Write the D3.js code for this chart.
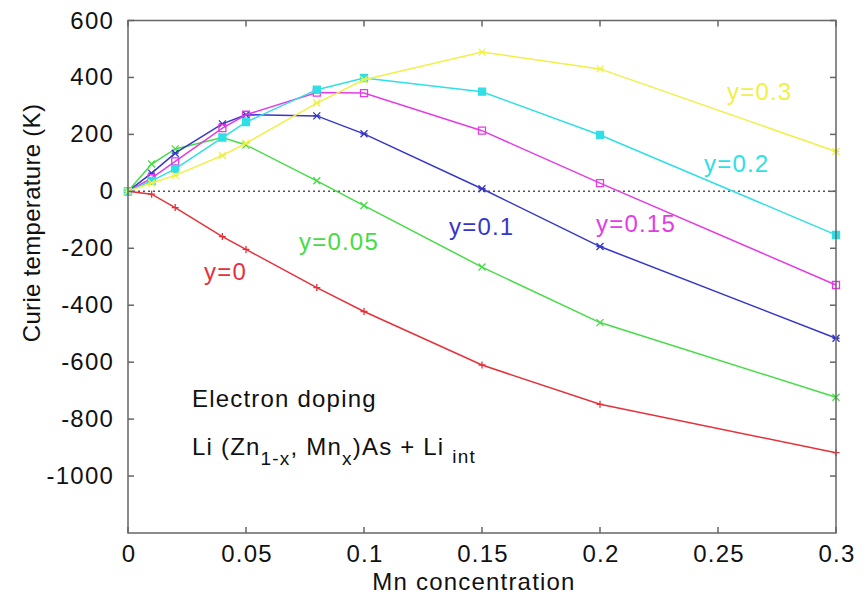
<!DOCTYPE html>
<html>
<head>
<meta charset="utf-8">
<script src="https://cdn.jsdelivr.net/npm/d3@7"></script>
<style>
  body { margin: 0; background: #fff; }
  text { font-family: "Liberation Sans", Arial, sans-serif; letter-spacing: 1.2px; }
</style>
</head>
<body>
<div id="chart"></div>
<script>
// Mn concentration values
const mnConc = [0, 0.01, 0.02, 0.04, 0.05, 0.08, 0.1, 0.15, 0.2, 0.3];

// Curie temperature (K) per Li_int concentration y
const tcY0   = [0, -10, -57, -159, -204, -338, -422, -610, -748, -918];
const tcY005 = [0, 96, 149, 189, 163, 37, -50, -266, -461, -723];
const tcY01  = [0, 64, 134, 237, 269, 265, 202, 9, -194, -516];
const tcY015 = [0, 46, 105, 222, 269, 347, 345, 213, 29, -329];
const tcY02  = [0, 37, 79, 189, 243, 357, 398, 350, 198, -153];
const tcY03  = [0, 29, 56, 126, 169, 310, 392, 489, 430, 140];

const seriesNames = ["y=0", "y=0.05", "y=0.1", "y=0.15", "y=0.2", "y=0.3"];

const xTicks = [0, 0.05, 0.1, 0.15, 0.2, 0.25, 0.3];
const yTicks = [600, 400, 200, 0, -200, -400, -600, -800, -1000];

const width = 864, height = 601;
const pLeft = 128, pRight = 836, pTop = 20.5, pBottom = 533;

const x = d3.scaleLinear().domain([0, 0.3]).range([pLeft, pRight]);
const y = d3.scaleLinear().domain([-1200, 600]).range([pBottom, pTop]);

const svg = d3.select("#chart").append("svg")
    .attr("width", width)
    .attr("height", height);

const series = [
  { name: seriesNames[0], vals: tcY0,   color: "#e8303a", mark: "plus",   lx: 204, ly: 280 },
  { name: seriesNames[1], vals: tcY005, color: "#45dc45", mark: "cross",  lx: 299, ly: 250 },
  { name: seriesNames[2], vals: tcY01,  color: "#3636c8", mark: "star",   lx: 449, ly: 235 },
  { name: seriesNames[3], vals: tcY015, color: "#e43ce4", mark: "osq",    lx: 596, ly: 232 },
  { name: seriesNames[4], vals: tcY02,  color: "#2ee0e6", mark: "fsq",    lx: 704, ly: 172 },
  { name: seriesNames[5], vals: tcY03,  color: "#f0f048", mark: "star",   lx: 727, ly: 100 }
];

// zero line
svg.append("line")
    .attr("x1", x(0)).attr("x2", x(0.3))
    .attr("y1", y(0)).attr("y2", y(0))
    .attr("stroke", "#555")
    .attr("stroke-width", 1.5)
    .attr("stroke-dasharray", "2,3");

const line = d3.line()
    .x(d => x(d[0]))
    .y(d => y(d[1]));

series.forEach(s => {
  const pts = mnConc.map((c, i) => [c, s.vals[i]]);
  const g = svg.append("g");
  g.append("path")
      .attr("d", line(pts))
      .attr("fill", "none")
      .attr("stroke", s.color)
      .attr("stroke-width", 1.5);

  g.selectAll("path.mk")
    .data(pts)
    .join("path")
      .attr("class", "mk")
      .attr("transform", d => `translate(${x(d[0])},${y(d[1])})`)
      .attr("d", d => {
        const r = 3.5;
        if (s.mark == "plus") return `M${-r},0H${r}M0,${-r}V${r}`;
        if (s.mark == "cross") return `M${-r},${-r}L${r},${r}M${-r},${r}L${r},${-r}`;
        if (s.mark == "star") return `M${-r},0H${r}M${-r},${-r}L${r},${r}M${-r},${r}L${r},${-r}`;
        return `M${-r},${-r}H${r}V${r}H${-r}Z`;
      })
      .attr("fill", s.mark == "fsq" ? s.color : "none")
      .attr("stroke", s.color)
      .attr("stroke-width", 1.3);

  svg.append("text")
      .attr("x", s.lx)
      .attr("y", s.ly)
      .attr("fill", s.color)
      .attr("font-size", 24)
      .text(s.name);
});

// frame
svg.append("rect")
    .attr("x", pLeft).attr("y", pTop)
    .attr("width", pRight - pLeft).attr("height", pBottom - pTop)
    .attr("fill", "none")
    .attr("stroke", "#666")
    .attr("stroke-width", 1.5);

// ticks, drawn inward on all four sides
const tk = 6;
const xt = svg.append("g");
xTicks.forEach(t => {
  xt.append("line").attr("x1", x(t)).attr("x2", x(t)).attr("y1", pBottom).attr("y2", pBottom - tk)
    .attr("stroke", "#666").attr("stroke-width", 1.5);
  xt.append("line").attr("x1", x(t)).attr("x2", x(t)).attr("y1", pTop).attr("y2", pTop + tk)
    .attr("stroke", "#666").attr("stroke-width", 1.5);
  xt.append("text").attr("x", x(t) + 1).attr("y", 562)
    .attr("text-anchor", "middle").attr("font-size", 24).attr("fill", "#111")
    .text(t);
});
const yt = svg.append("g");
yTicks.forEach(t => {
  yt.append("line").attr("x1", pLeft).attr("x2", pLeft + tk).attr("y1", y(t)).attr("y2", y(t))
    .attr("stroke", "#666").attr("stroke-width", 1.5);
  yt.append("line").attr("x1", pRight).attr("x2", pRight - tk).attr("y1", y(t)).attr("y2", y(t))
    .attr("stroke", "#666").attr("stroke-width", 1.5);
  yt.append("text").attr("x", 114).attr("y", y(t) + 8)
    .attr("text-anchor", "end").attr("font-size", 24).attr("fill", "#111")
    .text(t);
});

// axis titles
svg.append("text")
    .attr("x", 474).attr("y", 590)
    .attr("text-anchor", "middle").attr("font-size", 24).attr("fill", "#111")
    .text("Mn concentration");
svg.append("text")
    .attr("transform", "translate(40,223) rotate(-90)")
    .attr("text-anchor", "middle").attr("font-size", 24).attr("fill", "#111")
    .style("letter-spacing", "0.3px")
    .text("Curie temperature (K)");

// annotation
svg.append("text")
    .attr("x", 192).attr("y", 407)
    .attr("font-size", 24).attr("fill", "#111")
    .text("Electron doping");
const formula = svg.append("text")
    .attr("x", 192).attr("y", 455)
    .attr("font-size", 24).attr("fill", "#111");
formula.append("tspan").text("Li (Zn");
formula.append("tspan").attr("font-size", 19).attr("dy", 10).text("1-x");
formula.append("tspan").attr("dy", -10).text(", Mn");
formula.append("tspan").attr("font-size", 19).attr("dy", 10).text("x");
formula.append("tspan").attr("dy", -10).text(")As + Li ");
formula.append("tspan").attr("font-size", 19).attr("dy", 8).text("int");
</script>
</body>
</html>
